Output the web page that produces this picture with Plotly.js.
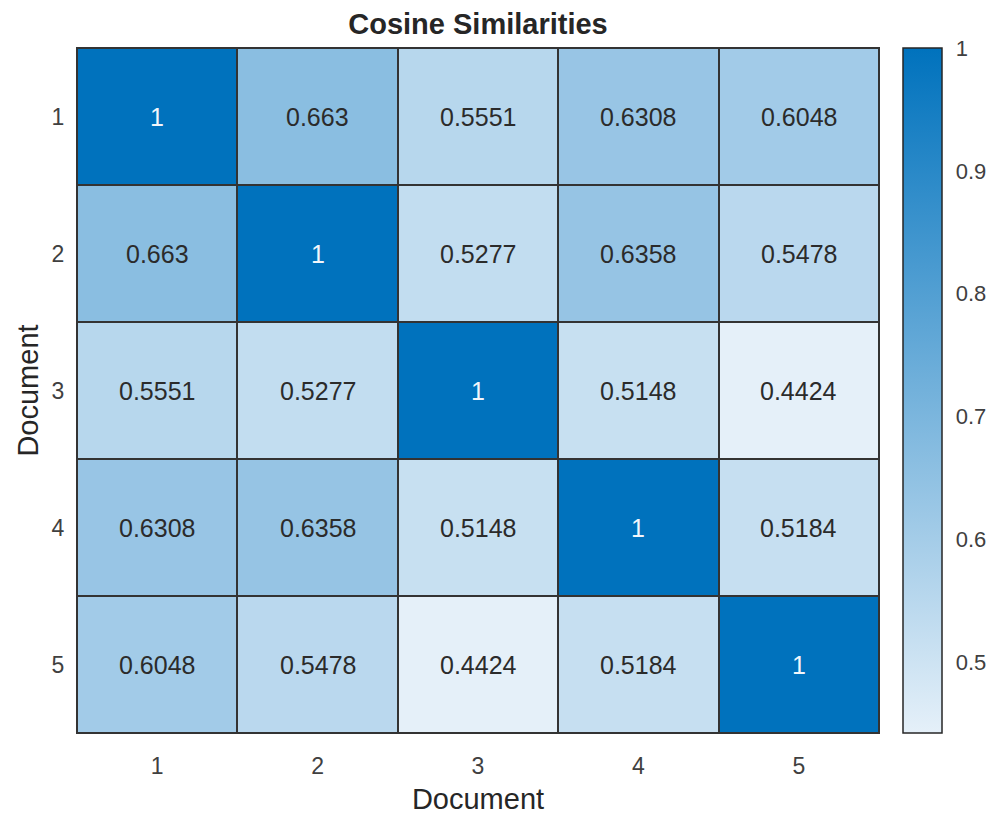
<!DOCTYPE html>
<html>
<head>
<meta charset="utf-8">
<script src="https://cdn.plot.ly/plotly-3.0.1.min.js"></script>
<style>html,body{margin:0;padding:0;background:#fff;}#chart{width:992px;height:816px;}</style>
</head>
<body>
<div id="chart"></div>
<script>
const docs = [1, 2, 3, 4, 5];
const row1 = [1, 0.663, 0.5551, 0.6308, 0.6048];
const row2 = [0.663, 1, 0.5277, 0.6358, 0.5478];
const row3 = [0.5551, 0.5277, 1, 0.5148, 0.4424];
const row4 = [0.6308, 0.6358, 0.5148, 1, 0.5184];
const row5 = [0.6048, 0.5478, 0.4424, 0.5184, 1];
const cbTicks = [0.5, 0.6, 0.7, 0.8, 0.9, 1];

const z = [row1, row2, row3, row4, row5];
const flat = z.flat();
const zmin = Math.min(...flat), zmax = Math.max(...flat);
const FONT = 'Liberation Sans, Arial, Helvetica, sans-serif';

const annotations = [];
z.forEach((row, i) => row.forEach((v, j) => {
  annotations.push({
    x: docs[j], y: docs[i], xref: 'x', yref: 'y',
    text: String(v), showarrow: false,
    font: {family: FONT, size: 25, color: (v - zmin) / (zmax - zmin) > 0.6 ? '#f2f6fb' : '#2b2b2b'}
  });
}));

const trace = {
  type: 'heatmap',
  x: docs, y: docs, z: z,
  zmin: zmin, zmax: zmax,
  colorscale: [[0, 'rgb(229,240,249)'], [1, 'rgb(0,114,189)']],
  xgap: 2, ygap: 2,
  hoverinfo: 'skip',
  colorbar: {
    x: 1.0299, xanchor: 'left', xpad: 0,
    y: 0.5, yanchor: 'middle', ypad: 0, len: 1, lenmode: 'fraction',
    thickness: 39, thicknessmode: 'pixels',
    outlinewidth: 1.5, outlinecolor: '#262626',
    tickvals: cbTicks, ticks: 'outside', ticklen: 9, tickcolor: 'rgba(0,0,0,0)', tickwidth: 1,
    tickfont: {family: FONT, size: 22, color: '#404040'},
    showticklabels: true
  }
};

const layout = {
  width: 992, height: 816,
  margin: {l: 77, r: 113, t: 48, b: 83, pad: 0, autoexpand: false},
  paper_bgcolor: '#ffffff',
  plot_bgcolor: '#333333',
  title: {text: '<b>Cosine Similarities</b>', x: 0.5, xref: 'paper', y: 1 - 24/816, yref: 'container', yanchor: 'middle',
          font: {family: FONT, size: 29, color: '#262626'}},
  xaxis: {range: [0.5, 5.5], tickvals: docs, showgrid: false, zeroline: false, ticks: '', ticklabelstandoff: 12,
          showline: true, mirror: true, linecolor: '#333333', linewidth: 1,
          tickfont: {family: FONT, size: 23, color: '#404040'},
          title: {text: 'Document', standoff: 11, font: {family: FONT, size: 29, color: '#262626'}}},
  yaxis: {range: [5.5, 0.5], tickvals: docs, showgrid: false, zeroline: false, ticks: '', ticklabelstandoff: 7,
          showline: true, mirror: true, linecolor: '#333333', linewidth: 1,
          tickfont: {family: FONT, size: 23, color: '#404040'},
          title: {text: 'Document', standoff: 4, font: {family: FONT, size: 29, color: '#262626'}}},
  annotations: annotations
};

Plotly.newPlot('chart', [trace], layout, {displayModeBar: false, staticPlot: true});
</script>
</body>
</html>
